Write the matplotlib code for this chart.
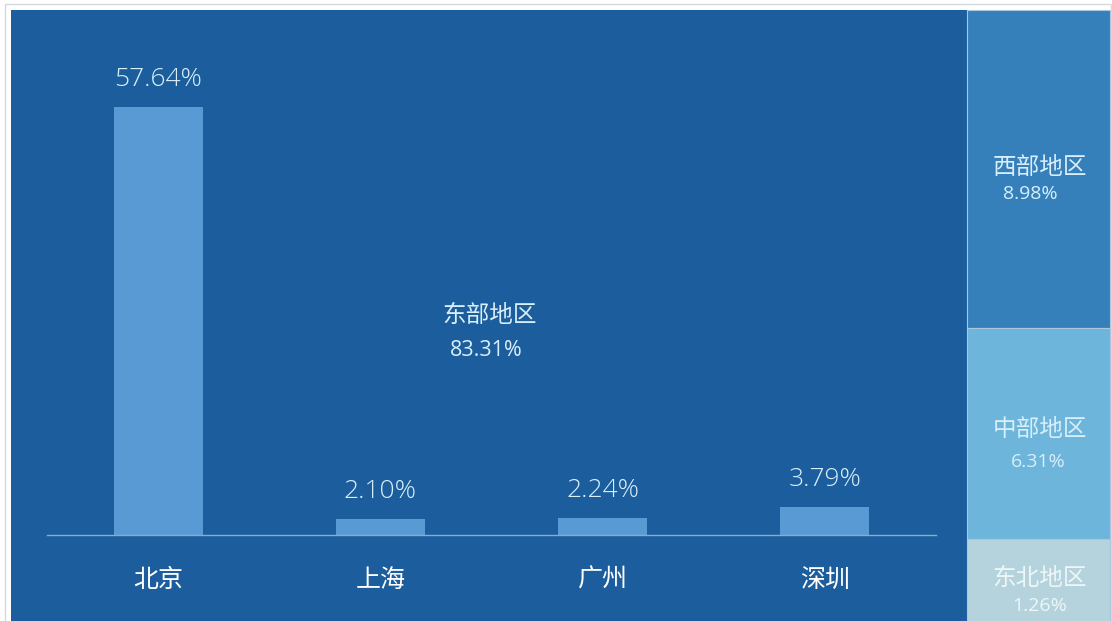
import matplotlib
matplotlib.use("Agg")
import matplotlib.pyplot as plt
from matplotlib.patches import Rectangle

plt.rcParams['font.family'] = ['Noto Sans CJK SC', 'DejaVu Sans']

# Regional shares (%)
regions = ["东部地区", "西部地区", "中部地区", "东北地区"]
region_shares = [83.31, 8.98, 6.31, 1.26]

# City shares within the eastern region (%)
cities = ["北京", "上海", "广州", "深圳"]
city_shares = [57.64, 2.10, 2.24, 3.79]

# Tile colours
region_colors = ["#1c5e9d", "#3580ba", "#6db5da", "#b5d3dc"]
bar_color = "#5a9ad4"
label_color = "#d8eefa"
num_font = ['Open Sans', 'Noto Sans CJK SC', 'DejaVu Sans']

W, H = 1112, 621
fig = plt.figure(figsize=(W / 100, H / 100), dpi=100)
fig.patch.set_facecolor("white")

# Full-figure canvas in pixel units for the tiles
canvas = fig.add_axes([0, 0, 1, 1])
canvas.set_xlim(0, W)
canvas.set_ylim(H, 0)
canvas.axis("off")

# outer frame
canvas.add_patch(Rectangle((5, 4), 1106, 630, fill=False, edgecolor="#d6d9dc", lw=1))

# tile layout: left tile for the east, right column split top-to-bottom
col_x0, col_x1 = 967, 1110
left_tile = (11, 10, col_x0 - 11, H - 10)
right_edges = [10, 328, 539, H]

canvas.add_patch(Rectangle(left_tile[:2], left_tile[2], left_tile[3],
                           facecolor=region_colors[0], edgecolor="none"))
for i in range(3):
    y0, y1 = right_edges[i], right_edges[i + 1]
    canvas.add_patch(Rectangle((col_x0, y0), col_x1 - col_x0, y1 - y0,
                               facecolor=region_colors[i + 1],
                               edgecolor="#a9c8e0", lw=0.8))

# region labels
canvas.text(490, 315, regions[0], color=label_color, fontsize=17,
            ha="center", va="center", fontweight="light")
canvas.text(486, 351, f"{region_shares[0]:.2f}%", color=label_color,
            fontsize=15.5, ha="center", va="center", family=num_font)

side_label_pos = [(1040, 167, 1030, 194), (1040, 430, 1038, 462), (1040, 578, 1040, 606)]
side_text_colors = [label_color, label_color, "#eef6f8"]
for i, (nx, ny, vx, vy) in enumerate(side_label_pos):
    canvas.text(nx, ny, regions[i + 1], color=side_text_colors[i], fontsize=17,
                ha="center", va="center", fontweight="light")
    canvas.text(vx, vy, f"{region_shares[i + 1]:.2f}%", color=side_text_colors[i],
                fontsize=14, ha="center", va="center", family=num_font)

# Bar chart inside the eastern tile
bx0, bx1 = 47, 936
by_base, by_top = 535, 60
ax = fig.add_axes([bx0 / W, 1 - by_base / H, (bx1 - bx0) / W, (by_base - by_top) / H])
ax.set_facecolor("none")
x = list(range(len(cities)))
ax.bar(x, city_shares, width=0.4, color=bar_color, zorder=2)
ax.set_xlim(-0.5, len(cities) - 0.5)
ax.set_ylim(0, max(city_shares) * 475 / 428)
for s in ["top", "right", "left"]:
    ax.spines[s].set_visible(False)
ax.spines["bottom"].set_color("#8cabc8")
ax.spines["bottom"].set_linewidth(1.0)
ax.set_yticks([])
ax.set_xticks(x)
ax.set_xticklabels(cities, color="white", fontsize=18, fontweight="medium")
ax.tick_params(axis="x", length=0, pad=23)

for xi, v in zip(x, city_shares):
    ax.annotate(f"{v:.2f}%", (xi, v), xytext=(0, 11), textcoords="offset points",
                ha="center", va="bottom", color=label_color, fontsize=19,
                fontweight="light", family=num_font)

fig.savefig("out.png", dpi=100, facecolor="white")
